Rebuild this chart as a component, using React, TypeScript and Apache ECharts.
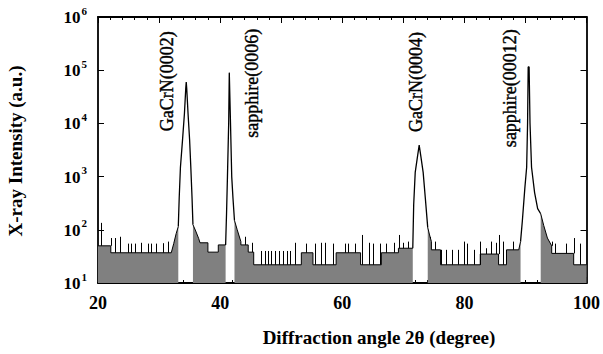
import React, { useEffect, useRef } from "react";
import * as echarts from "echarts";

const FONT = "'Liberation Serif', 'Times New Roman', serif";

// x axis range / tick labels (degrees)
const xMin = 20;
const xMax = 100;
const xLabelStep = 20;
// y axis range (counts, log scale)
const yMin = 10;
const yMax = 1000000;

// background (noise floor) outline: [2θ, counts]; null = gap under a peak
const background: ([number, number] | null)[] = [
  [20, 50], [22.1, 50], [22.1, 37], [32.0, 37], [32.4, 55], [32.8, 85], [33.15, 115], null,
  [35.55, 125], [36.0, 95], [36.5, 68], [36.7, 57], [38.0, 57], [38.0, 38], [39.7, 38], [39.7, 52], [40.9, 52], null,
  [42.35, 150], [42.8, 100], [43.4, 60], [43.4, 52], [44.6, 52], [44.6, 38], [45.5, 38], [45.5, 22],
  [53.3, 22], [53.3, 37], [55.2, 37], [55.2, 22], [59.0, 22], [59.0, 37], [63.0, 37], [63.0, 22],
  [66.4, 22], [66.4, 37], [69.2, 37], [69.2, 45], [71.55, 45], null,
  [74.0, 110], [74.3, 80], [74.6, 60], [74.6, 42], [76.1, 42], [76.1, 22], [82.6, 22], [82.6, 35],
  [85.6, 35], [85.6, 22], [86.9, 22], [86.9, 42], [88.9, 42], [89.2, 60], null,
  [92.5, 200], [93.0, 120], [93.6, 70], [94.3, 50], [94.3, 36], [97.9, 36], [97.9, 22], [100, 22],
];

// peak outlines: [2θ, counts]
const gacrn0002: [number, number][] = [
  [33.15, 115], [33.3, 400], [33.5, 1500], [33.85, 5000], [34.15, 15000], [34.37, 45000], [34.45, 60000],
  [34.53, 45000], [34.75, 15000], [35.0, 5000], [35.2, 1500], [35.4, 400], [35.55, 125],
];
const sapphire0006: [number, number][] = [
  [40.9, 52], [41.05, 200], [41.2, 1000], [41.4, 10000], [41.5, 90000], [41.6, 90000], [41.7, 10000],
  [41.9, 1000], [42.1, 400], [42.35, 150],
];
const gacrn0004: [number, number][] = [
  [71.55, 45], [71.7, 300], [71.95, 1200], [72.35, 2500], [72.6, 3900], [72.85, 2500], [73.25, 1200],
  [73.6, 400], [74.0, 110],
];
const sapphire00012: [number, number][] = [
  [89.2, 60], [89.5, 150], [89.9, 600], [90.2, 1500], [90.35, 10000], [90.45, 115000], [90.6, 115000],
  [90.75, 10000], [91.0, 1500], [91.5, 500], [92.0, 250], [92.5, 200],
];

// noise spikes: [2θ, top counts]
const spikes: [number, number][] = [
  [20.55, 135], [22.1, 70], [22.8, 70], [23.6, 74], [24.9, 55], [25.4, 55], [26.0, 55], [27.1, 57],
  [28.2, 55], [28.7, 55], [29.5, 55], [30.7, 56], [31.5, 60],
  [44.1, 74], [45.2, 57], [46.7, 40], [47.4, 40], [47.9, 40], [48.4, 40], [49.0, 40], [49.7, 40],
  [50.3, 40], [50.9, 40], [51.5, 40], [52.3, 57],
  [54.1, 55], [55.6, 55], [56.6, 57], [57.2, 57], [58.5, 55], [60.5, 55], [61.0, 55], [62.1, 55],
  [63.3, 80], [64.3, 57], [65.1, 55], [66.2, 55], [67.2, 55], [68.4, 57],
  [69.3, 80], [70.0, 57], [70.8, 60], [74.4, 70], [75.2, 60], [76.2, 42], [77.0, 42], [77.9, 42],
  [79.0, 42], [80.0, 60], [80.5, 55], [81.5, 42], [82.6, 60], [83.6, 45], [84.4, 60], [85.1, 57],
  [85.6, 80], [86.4, 60], [88.0, 60], [94.3, 60], [94.9, 55], [96.6, 55], [97.9, 70], [99.0, 55],
];

// peak annotations
const annotationText = ["GaCrN(0002)", "sapphire(0006)", "GaCrN(0004)", "sapphire(00012)"];
const annotationX = [31.3, 45.25, 72.05, 87.4];
const annotationY = [62000, 57000, 60000, 46000];

function baseAt(x: number): number {
  for (let i = 0; i < background.length - 1; i++) {
    const a = background[i];
    const b = background[i + 1];
    if (!a || !b) continue;
    if (x >= a[0] && x <= b[0] && b[0] > a[0]) {
      return a[1] + ((b[1] - a[1]) * (x - a[0])) / (b[0] - a[0]);
    }
  }
  return yMin;
}

function withBreaks(list: ([number, number] | null)[]) {
  return list.map((p, i) => (p ? p : [list[i - 1] ? (list[i - 1] as [number, number])[0] : xMin, "-"]));
}

export default function App() {
  const ref = useRef<HTMLDivElement>(null);
  useEffect(() => {
    if (!ref.current) return;
    const chart = echarts.init(ref.current, undefined, { renderer: "svg" });
    const axisLine = { show: true, lineStyle: { color: "#000", width: 1.8 } };
    const option: any = {
      animation: false,
      backgroundColor: "#fff",
      grid: { left: 98, right: 15, top: 17, bottom: 71 },
      xAxis: [
        {
          type: "value", min: xMin, max: xMax, interval: xLabelStep, position: "bottom",
          axisLine,
          axisTick: { inside: true, length: 6, lineStyle: { color: "#000" } },
          minorTick: { show: true, splitNumber: 10, length: 3, lineStyle: { color: "#000" } },
          splitLine: { show: false },
          axisLabel: { color: "#000", fontFamily: FONT, fontWeight: "bold", fontSize: 18, margin: 11 },
        },
        {
          type: "value", min: xMin, max: xMax, interval: 10, position: "top",
          axisLine,
          axisTick: { inside: true, length: 6, lineStyle: { color: "#000" } },
          minorTick: { show: true, splitNumber: 5, length: 3, lineStyle: { color: "#000" } },
          splitLine: { show: false },
          axisLabel: { show: false },
        },
      ],
      yAxis: [
        {
          type: "log", logBase: 10, min: yMin, max: yMax, position: "left",
          axisLine,
          axisTick: { inside: true, length: 6, lineStyle: { color: "#000" } },
          splitLine: { show: false },
          axisLabel: {
            margin: 11,
            formatter: (v: number) => `{b|10}{e|${Math.round(Math.log10(v))}}`,
            rich: {
              b: { fontFamily: FONT, fontWeight: "bold", fontSize: 17, color: "#000", verticalAlign: "bottom", lineHeight: 18 },
              e: { fontFamily: FONT, fontWeight: "bold", fontSize: 11, color: "#000", verticalAlign: "bottom", lineHeight: 12, padding: [0, 0, 10, 1] },
            },
          },
        },
        {
          type: "log", logBase: 10, min: yMin, max: yMax, position: "right",
          axisLine,
          axisTick: { inside: true, length: 6, lineStyle: { color: "#000" } },
          splitLine: { show: false },
          axisLabel: { show: false },
        },
      ],
      series: [
        {
          type: "line",
          data: withBreaks(background),
          symbol: "none",
          lineStyle: { color: "#000", width: 1 },
          areaStyle: { color: "#808080", opacity: 1, origin: "start" },
          connectNulls: false,
          silent: true,
          z: 2,
        },
        {
          type: "custom",
          data: spikes.map(([x, top]) => [x, top, baseAt(x)]),
          encode: { x: 0, y: 1 },
          renderItem: (_p: any, api: any) => {
            const x = api.value(0);
            const p0 = api.coord([x, api.value(2)]);
            const p1 = api.coord([x, api.value(1)]);
            return {
              type: "line",
              shape: { x1: Math.round(p0[0]) + 0.5, y1: p0[1], x2: Math.round(p1[0]) + 0.5, y2: p1[1] },
              style: { stroke: "#000", lineWidth: 1 },
            };
          },
          silent: true,
          z: 3,
        },
        ...[gacrn0002, sapphire0006, gacrn0004, sapphire00012].map((pk) => ({
          type: "line",
          data: pk,
          symbol: "none",
          lineStyle: { color: "#000", width: 1.3 },
          silent: true,
          z: 4,
        })),
        {
          type: "scatter",
          data: annotationX.map((x, i) => [x, annotationY[i]]),
          symbolSize: 1,
          itemStyle: { color: "rgba(0,0,0,0)" },
          label: {
            show: true,
            position: "inside",
            rotate: 90,
            formatter: (p: any) => annotationText[p.dataIndex],
            fontFamily: FONT,
            fontSize: 18,
            color: "#000",
            opacity: 1,
            textBorderColor: "#000",
            textBorderWidth: 0.4,
          },
          silent: true,
          z: 5,
        },
      ],
      graphic: [
        {
          type: "text",
          x: 15,
          y: 151,
          rotation: Math.PI / 2,
          style: {
            text: "X-ray Intensity (a.u.)",
            font: `bold 19px ${FONT}`,
            fill: "#000",
            textAlign: "center",
            textVerticalAlign: "middle",
            align: "center",
            verticalAlign: "middle",
          },
        },
        {
          type: "text",
          x: 379,
          y: 337,
          style: {
            text: "Diffraction angle 2θ (degree)",
            font: `bold 19px ${FONT}`,
            fill: "#000",
            textAlign: "center",
            textVerticalAlign: "middle",
            align: "center",
            verticalAlign: "middle",
          },
        },
      ],
    };
    chart.setOption(option);
    return () => chart.dispose();
  }, []);
  return <div ref={ref} style={{ width: 603, height: 354, position: "absolute", left: 0, top: 0 }} />;
}
